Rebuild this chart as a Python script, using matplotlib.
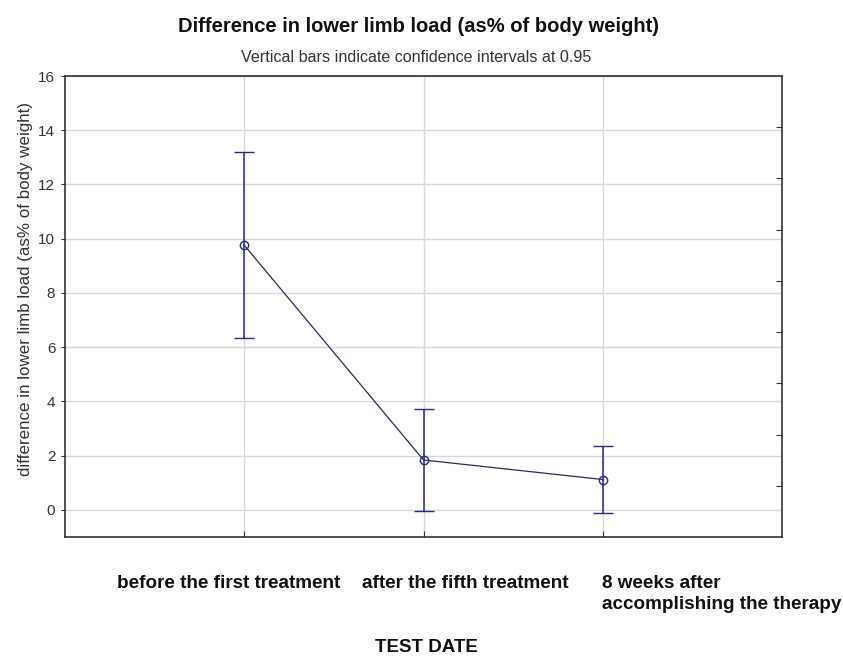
import matplotlib
matplotlib.use("Agg")
import matplotlib.pyplot as plt
import numpy as np

categories = ["before the first treatment", "after the fifth treatment",
              "8 weeks after\naccomplishing the therapy"]
means = [9.76, 1.84, 1.12]
ci_half = [3.42, 1.88, 1.24]
yticks = [0, 2, 4, 6, 8, 10, 12, 14, 16]

plt.rcParams['font.family'] = ['Liberation Sans', 'DejaVu Sans']

fig = plt.figure(figsize=(8.43, 6.56), dpi=100)
ax = fig.add_axes([65/843, 1-537/656, 717/843, 461/656])

x = np.arange(1, len(categories) + 1)
ax.plot(x, means, color='#2a2a5a', lw=0.9, zorder=3)
ax.errorbar(x, means, yerr=ci_half, fmt='o', mfc='none', mec='#2a2a80',
            ms=6, mew=1.0, ecolor='#2a2a80', elinewidth=1.1, capsize=7.5,
            capthick=1.1, zorder=4)

ax.set_xlim(0, 4)
ax.set_ylim(-1, 16)
ax.set_yticks(yticks)
ax.set_yticklabels([str(v) for v in yticks], fontsize=11, color='#333333')
ax.set_xticks(x)
ax.set_xticklabels([])
ax.tick_params(axis='x', direction='in', length=4, color='#333333')
ax.tick_params(axis='y', direction='out', length=3, color='#333333', pad=4)
ax.grid(True, color='#d9d9d9', lw=1.0)
ax.set_axisbelow(True)
for s in ax.spines.values():
    s.set_color('#333333')
    s.set_linewidth(1.2)

# right-side ticks (unlabelled) dividing the range in 9 parts
ax2 = ax.twinx()
ax2.set_ylim(0, 9)
ax2.set_yticks(np.arange(1, 9))
ax2.set_yticklabels([])
ax2.tick_params(axis='y', direction='in', length=4, color='#333333')
for s in ax2.spines.values():
    s.set_visible(False)

ax.set_ylabel("difference in lower limb load (as% of body weight)",
              fontsize=12.2, color='#333333')
ax.yaxis.set_label_coords((33 - 65) / 717, (537 - 289) / 461)

fig.text(418/843, 1-27/656, "Difference in lower limb load (as% of body weight)",
         ha='center', va='center', fontsize=14.5, fontweight='bold', color='#111111')
fig.text(416/843, 1-58/656, "Vertical bars indicate confidence intervals at 0.95",
         ha='center', va='center', fontsize=11.6, color='#333333')

label_x = [117, 362, 602]
for lx, lab in zip(label_x, categories):
    fig.text(lx/843, 1-575/656, lab, ha='left', va='top', fontsize=13.6,
             fontweight='bold', color='#111111', linespacing=1.28)
fig.text(426/843, 1-647/656, "TEST DATE", ha='center', va='center',
         fontsize=13.5, fontweight='bold', color='#111111')

fig.savefig("out.png", dpi=100)
